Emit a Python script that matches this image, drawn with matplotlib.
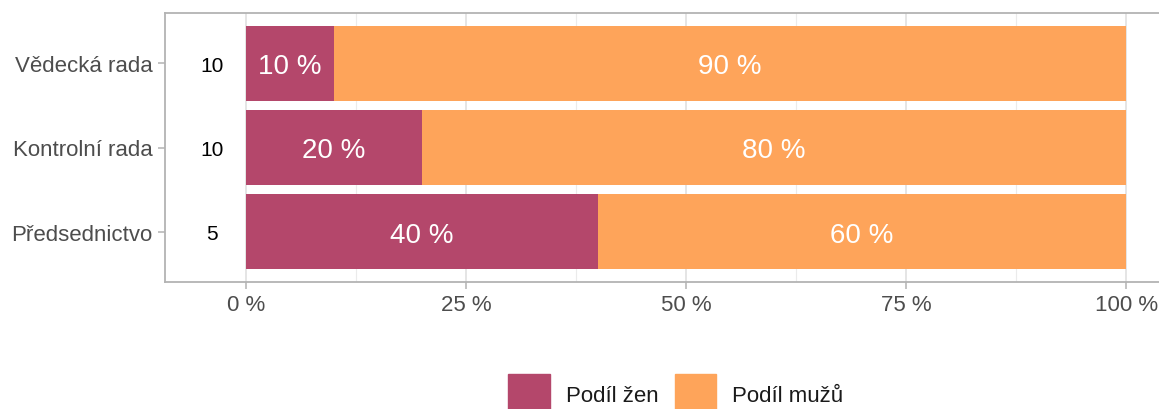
import matplotlib.pyplot as plt
from matplotlib.patches import Patch

plt.rcParams['font.family'] = ['Liberation Sans', 'DejaVu Sans']

# categories from bottom to top
bodies = ["Předsednictvo", "Kontrolní rada", "Vědecká rada"]
members = [5, 10, 10]
women = [40, 20, 10]      # %
men = [60, 80, 90]        # %

col_women = "#B4476B"
col_men = "#FEA45A"

fig = plt.figure(figsize=(11.59, 4.10), dpi=100)
W, H = 1159, 410
ax = fig.add_axes([165 / W, 1 - 283 / H, (1172 - 165) / W, (283 - 14) / H])

y = list(range(1, len(bodies) + 1))
ax.barh(y, women, height=0.9, color=col_women, zorder=3)
ax.barh(y, men, left=women, height=0.9, color=col_men, zorder=3)

for yi, w, m, n in zip(y, women, men, members):
    ax.text(w / 2, yi, f"{w} %", color="white", fontsize=20,
            ha="center", va="center_baseline", zorder=4)
    ax.text(w + m / 2, yi, f"{m} %", color="white", fontsize=20,
            ha="center", va="center_baseline", zorder=4)
    ax.text(-3.9, yi, str(n), color="black", fontsize=15,
            ha="center", va="center_baseline", zorder=4)

ax.set_xlim(-9.2, 105.2)
ax.set_ylim(0.4, 3.6)
ax.set_yticks(y)
ax.set_yticklabels(bodies)
ax.set_xticks([0, 25, 50, 75, 100])
ax.set_xticklabels(["0 %", "25 %", "50 %", "75 %", "100 %"])
ax.set_xticks([12.5, 37.5, 62.5, 87.5], minor=True)

ax.grid(axis="x", which="major", color="#DEDEDE", lw=1.1, zorder=0)
ax.grid(axis="x", which="minor", color="#EBEBEB", lw=0.8, zorder=0)
ax.tick_params(axis="both", which="major", colors="#B3B3B3", length=5,
               width=1.1, labelsize=16, labelcolor="#4D4D4D", pad=4)
ax.tick_params(axis="x", which="minor", length=0)
for s in ax.spines.values():
    s.set_color("#B3B3B3")
    s.set_linewidth(1.3)

handles = [Patch(color=col_women, label="Podíl žen"),
           Patch(color=col_men, label="Podíl mužů")]
fig.legend(handles=handles, loc="center", bbox_to_anchor=(676 / W, 1 - 395 / H),
           ncol=2, frameon=False, fontsize=16, handlelength=1.85,
           handleheight=2.4, handletextpad=0.72, columnspacing=0.77,
           labelcolor="#1A1A1A", borderpad=0)

fig.savefig("out.png", dpi=100)
